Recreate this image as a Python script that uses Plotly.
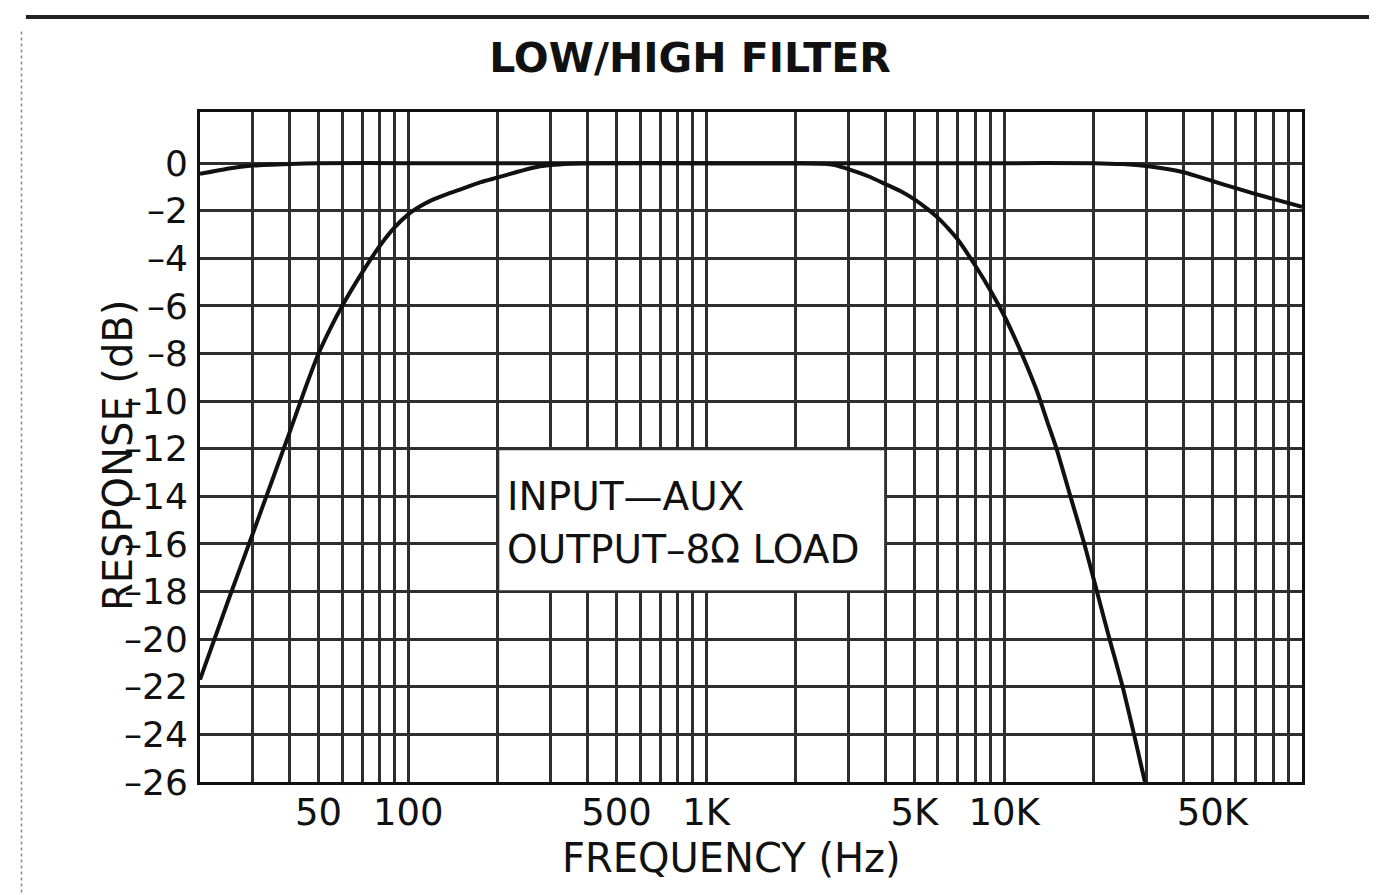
import math
import plotly.graph_objects as go

# ---- data ----
wide_freq_hz = [20, 25, 30, 40, 50, 100, 1000, 10000, 20000, 25000, 30000, 40000, 50000, 60000, 70000, 80000, 100000]
wide_db = [-0.45, -0.22, -0.1, -0.03, 0, 0, 0, 0, 0, -0.04, -0.12, -0.38, -0.75, -1.05, -1.3, -1.5, -1.83]

band_freq_hz = [20, 25, 30, 35, 40, 45, 50, 55, 60, 70, 80, 90, 100, 110, 120, 135, 150, 175, 200, 230,
                260, 300, 350, 400, 1000, 2000, 2500, 2700, 3000, 3500, 4000, 4500, 5000, 5500, 6000,
                6500, 7000, 8000, 9000, 10000, 11000, 12000, 13000, 14000, 15000, 16700, 18600, 20500,
                22600, 25000, 27300, 29700]
band_db = [-21.7, -18.3, -15.6, -13.3, -11.3, -9.5, -8.0, -6.9, -6.0, -4.6, -3.5, -2.7, -2.15, -1.8,
           -1.55, -1.3, -1.1, -0.8, -0.6, -0.38, -0.2, -0.08, -0.02, 0, 0, 0, -0.02, -0.08, -0.25,
           -0.55, -0.88, -1.18, -1.52, -1.9, -2.3, -2.75, -3.22, -4.3, -5.35, -6.4, -7.5, -8.6, -9.7,
           -10.9, -12.0, -14.0, -16.0, -18.0, -20.0, -22.0, -24.0, -26.0]

x_tick_vals = [50, 100, 500, 1000, 5000, 10000, 50000]
x_tick_text = ["50", "100", "500", "1K", "5K", "10K", "50K"]
y_tick_vals = [0, -2, -4, -6, -8, -10, -12, -14, -16, -18, -20, -22, -24, -26]
y_tick_text = ["0", "–2", "–4", "–6", "–8", "–10", "–12", "–14", "–16", "–18", "–20", "–22", "–24", "–26"]

note_lines = ["INPUT—AUX", "OUTPUT–8Ω LOAD"]
note_line_db = [-14.0, -16.25]
note_box_freq = [200, 4000]
note_box_db = [-18, -12]

x_range_hz = [20, 100000]
y_range_db = [-26, 2.15]

# ---- styles ----
INK = "#111111"
GRID = "#2e2e2e"
FONT = "DejaVu Sans"

minor_grid = []
for k in range(1, 5):
    for n in range(1, 10):
        v = n * 10 ** k
        if x_range_hz[0] <= v <= x_range_hz[1]:
            minor_grid.append(v)
minor_grid.append(100000)

fig = go.Figure()

# white note box (drawn as a filled trace so it sits above the grid)
bx = [note_box_freq[0], note_box_freq[1], note_box_freq[1], note_box_freq[0], note_box_freq[0]]
by = [note_box_db[0], note_box_db[0], note_box_db[1], note_box_db[1], note_box_db[0]]
fig.add_trace(go.Scatter(x=bx, y=by, mode="lines", fill="toself", fillcolor="white",
                         line=dict(color=GRID, width=2.7), showlegend=False, hoverinfo="skip"))

fig.add_trace(go.Scatter(x=wide_freq_hz, y=wide_db, mode="lines",
                         line=dict(color=INK, width=4, shape="spline", smoothing=0.6),
                         showlegend=False, hoverinfo="skip"))
fig.add_trace(go.Scatter(x=band_freq_hz, y=band_db, mode="lines",
                         line=dict(color=INK, width=4, shape="spline", smoothing=0.6),
                         showlegend=False, hoverinfo="skip"))

fig.update_xaxes(type="log", range=[math.log10(x_range_hz[0]), math.log10(x_range_hz[1])],
                 tickvals=x_tick_vals, ticktext=x_tick_text, ticks="",
                 tickfont=dict(family=FONT, size=37, color=INK),
                 showgrid=True, gridcolor=GRID, gridwidth=2.7,
                 minor=dict(tickvals=minor_grid, showgrid=True, gridcolor=GRID, gridwidth=2.7, ticks=""),
                 showline=True, linecolor=INK, linewidth=3, mirror=True, zeroline=False,
                 ticklabelstandoff=-4)
fig.update_yaxes(range=y_range_db, tickvals=y_tick_vals, ticktext=y_tick_text, ticks="",
                 tickfont=dict(family=FONT, size=36, color=INK),
                 showgrid=True, gridcolor=GRID, gridwidth=2.7, zeroline=False,
                 showline=True, linecolor=INK, linewidth=3, mirror=True, ticklabelstandoff=2)

for txt, yv in zip(note_lines, note_line_db):
    fig.add_annotation(x=math.log10(note_box_freq[0]), y=yv, xref="x", yref="y", text=txt,
                       showarrow=False, xanchor="left", yanchor="middle", xshift=7,
                       font=dict(family=FONT, size=39, color=INK))

# axis titles
fig.add_annotation(text="FREQUENCY (Hz)", xref="paper", yref="paper", x=0.482, y=-0.113,
                   showarrow=False, xanchor="center", yanchor="middle",
                   font=dict(family=FONT, size=40, color=INK))
fig.add_annotation(text="RESPONSE (dB)", xref="paper", yref="paper", x=-0.0744, y=0.4866,
                   showarrow=False, xanchor="center", yanchor="middle", textangle=-90,
                   font=dict(family=FONT, size=40, color=INK))

# scan frame lines
fig.add_shape(type="line", xref="paper", yref="paper", x0=-0.158, x1=1.062, y0=1.1418, y1=1.1418,
              line=dict(color="#222222", width=4))
fig.add_shape(type="line", xref="paper", yref="paper", x0=-0.162, x1=-0.162, y0=1.12, y1=-0.18,
              line=dict(color="#888888", width=1.5, dash="dot"))

fig.update_layout(
    width=1377, height=895,
    margin=dict(l=192, r=83, t=104, b=121, autoexpand=False),
    paper_bgcolor="white", plot_bgcolor="white",
    title=dict(text="<b>LOW/HIGH FILTER</b>", x=0.4953, y=0.945, xanchor="center", yanchor="middle",
               font=dict(family=FONT, size=41, color=INK)),
)

fig.write_html("out.html")
